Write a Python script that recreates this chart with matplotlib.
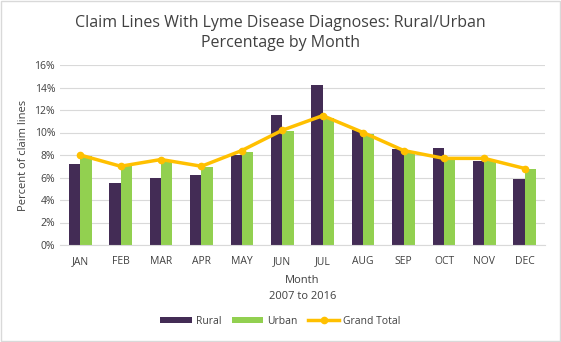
import numpy as np
import matplotlib.pyplot as plt
from matplotlib.ticker import PercentFormatter

months = ["JAN", "FEB", "MAR", "APR", "MAY", "JUN", "JUL", "AUG", "SEP", "OCT", "NOV", "DEC"]
rural = [7.2, 5.5, 6.0, 6.2, 8.0, 11.6, 14.2, 10.2, 8.5, 8.6, 7.5, 5.9]
urban = [7.9, 7.1, 7.6, 6.9, 8.3, 10.1, 11.3, 9.9, 8.2, 7.7, 7.6, 6.8]
grand_total = [8.0, 7.0, 7.6, 7.0, 8.4, 10.2, 11.5, 10.0, 8.4, 7.7, 7.7, 6.8]

plt.rcParams['font.family'] = ['Open Sans', 'DejaVu Sans']
text_col = "#404040"

fig = plt.figure(figsize=(5.61, 3.42), dpi=100)
ax = fig.add_axes([60 / 561, 1 - 245 / 342, 485 / 561, 180 / 342])

x = np.arange(len(months))
w = 0.28
b1 = ax.bar(x - w / 2, rural, w, color="#432C55", label="Rural", zorder=2)
b2 = ax.bar(x + w / 2, urban, w, color="#92D050", label="Urban", zorder=2)
ln, = ax.plot(x, grand_total, color="#FFC000", linewidth=2.5, marker="o", markersize=4.5,
              label="Grand Total", zorder=3)

ax.set_xlim(-0.5, len(months) - 0.5)
ax.set_ylim(0, 16)
ax.set_yticks(np.arange(0, 17, 2))
ax.yaxis.set_major_formatter(PercentFormatter(decimals=0))
ax.set_xticks(x)
ax.set_xticklabels(months)
ax.tick_params(axis="both", length=0, labelsize=7.5, colors=text_col)
ax.tick_params(axis="x", pad=8)
ax.grid(axis="y", color="#D9D9D9", linewidth=0.8, zorder=0)
for s in ["top", "right", "left"]:
    ax.spines[s].set_visible(False)
ax.spines["bottom"].set_color("#D9D9D9")

ax.set_ylabel("Percent of claim lines", fontsize=8, color=text_col)
ax.set_xlabel("Month\n2007 to 2016", fontsize=8, color=text_col, labelpad=6, linespacing=1.6)

fig.text(0.5, 1 - 33 / 342, "Claim Lines With Lyme Disease Diagnoses: Rural/Urban\nPercentage by Month",
         ha="center", va="center", fontsize=11.5, color=text_col, linespacing=1.3)

fig.legend([b1, b2, ln], ["Rural", "Urban", "Grand Total"],
           loc="center", bbox_to_anchor=(0.5, 1 - 321 / 342), ncol=3, frameon=False,
           fontsize=7.5, labelcolor=text_col, handlelength=3, handleheight=0.6,
           columnspacing=1.0, handletextpad=0.4)

# light border around the figure
fig.patches.append(plt.Rectangle((0.002, 0.003), 0.996, 0.994, transform=fig.transFigure,
                                 fill=False, edgecolor="#D9D9D9", linewidth=1))

fig.savefig("out.png", dpi=100)
